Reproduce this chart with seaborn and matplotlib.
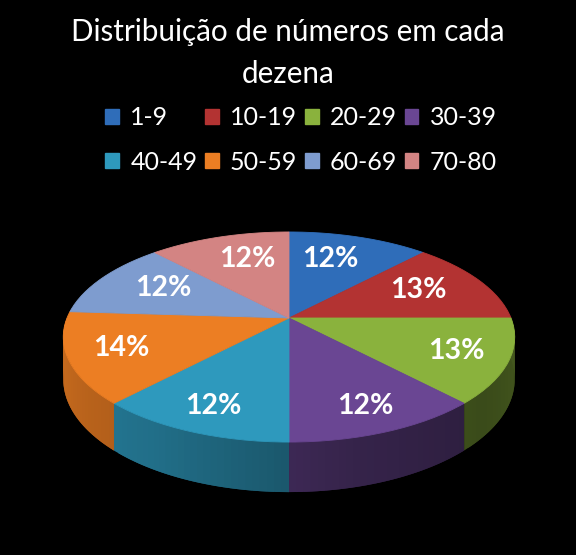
import numpy as np
import matplotlib
matplotlib.use('Agg')
import matplotlib.pyplot as plt
import seaborn as sns
from matplotlib.transforms import Transform, Affine2D
from matplotlib.path import Path
from matplotlib.patches import Patch
from matplotlib.colors import to_rgb

# ---- data ----
categories = ['1-9', '10-19', '20-29', '30-39', '40-49', '50-59', '60-69', '70-80']
percentages = [12, 13, 13, 12, 12, 14, 12, 12]
title_text = 'Distribuição de números em cada\ndezena'
top_colors = ['#2F6DB9', '#B33332', '#8AB23D', '#6A4693',
              '#2E99BD', '#EC7E23', '#7E9CCF', '#D38483']

sns.set_theme(style='white')
plt.rcParams['font.family'] = ['Lato', 'DejaVu Sans']

# ---- perspective geometry (pixels) ----
CX, CY, SX, SY, K, DEPTH = 289.0, 318.0, 222.0, 101.6, 0.181, 41.0


class PerspectiveTransform(Transform):
    input_dims = 2
    output_dims = 2
    is_separable = False
    has_inverse = False

    def transform_non_affine(self, values):
        v = np.asarray(values, float).reshape(-1, 2)
        x, y = v[:, 0], v[:, 1]
        d = 1.0 + K * y
        return np.column_stack([CX + SX * x / d, CY - SY * y / d])

    def transform_path_non_affine(self, path):
        big = path.transformed(Affine2D().scale(500.0))
        polys = big.to_polygons(closed_only=True)
        verts, codes = [], []
        for p in polys:
            p = np.asarray(p) / 500.0
            tp = self.transform_non_affine(p)
            verts.extend(tp)
            codes.extend([Path.MOVETO] + [Path.LINETO] * (len(tp) - 2) + [Path.CLOSEPOLY])
        return Path(np.array(verts), codes)


persp = PerspectiveTransform()

fig = plt.figure(figsize=(5.76, 5.55), dpi=100, facecolor='black')
ax = fig.add_axes([0, 0, 1, 1])
ax.set_facecolor('black')

palette = sns.color_palette(top_colors)
wedges, texts, autotexts = ax.pie(
    percentages, colors=palette, startangle=90, counterclock=False,
    autopct='%.0f%%', pctdistance=0.75, radius=1.0,
    wedgeprops=dict(linewidth=0.6, zorder=3),
    textprops=dict(color='white', fontsize=20.5, fontweight='bold', zorder=6))

ax.set_aspect('auto')
ax.set_xlim(0, 576)
ax.set_ylim(555, 0)
ax.axis('off')

for w in wedges:
    w.set_edgecolor(w.get_facecolor())
    w.set_transform(persp + ax.transData)

for t in autotexts:
    x, y = t.get_position()
    r = np.hypot(x, y)
    ang = np.arctan2(y, x)
    # labels sit a little further out on the near (front) half
    r2 = r * (1.0 - 0.08 * np.sin(ang))
    xt = r2 * np.cos(ang) * (1.0 - 0.2 * max(np.sin(ang), 0))
    yt = r2 * np.sin(ang)
    t.set_position(tuple(persp.transform(np.array([[xt, yt]]))[0]))
    t.set_ha('center')
    t.set_va('center')


def shade(t):
    return np.interp(t, [-180, -120, -75, -40, 0], [0.88, 0.72, 0.5, 0.42, 0.5])


for w, col in zip(wedges, top_colors):
    base = np.array(to_rgb(col))
    for shift in (-360, 0, 360):
        a, b = max(w.theta1 + shift, -180.0), min(w.theta2 + shift, 0.0)
        if b <= a:
            continue
        n = max(3, int((b - a) / 1.5) + 1)
        ts = np.linspace(a, b, n)
        rad = np.deg2rad(ts)
        pts = persp.transform(np.column_stack([np.cos(rad), np.sin(rad)]))
        dep = DEPTH / (1.0 + K * np.sin(rad))
        for i in range(n - 1):
            j = min(i + 2, n - 1)
            xs = [pts[i, 0], pts[j, 0], pts[j, 0], pts[i, 0]]
            ys = [pts[i, 1], pts[j, 1], pts[j, 1] + dep[j], pts[i, 1] + dep[i]]
            c = np.clip(base * shade((ts[i] + ts[i + 1]) / 2), 0, 1)
            ax.fill(xs, ys, color=c, lw=0, zorder=1)

fig.suptitle(title_text, x=0.5, y=1 - 18 / 555, va='top', ha='center',
             color='white', fontsize=21.3, linespacing=1.6)

# legend filled row by row (matplotlib fills column-wise)
ncol = 4
order = [r * ncol + c for c in range(ncol) for r in range(2)]
handles = [Patch(facecolor=palette[i], edgecolor=palette[i]) for i in order]
labels = [categories[i] for i in order]
fig.legend(handles, labels, loc='center', bbox_to_anchor=(301 / 576, 1 - 140 / 555),
           ncol=ncol, frameon=False, fontsize=18, labelcolor='white',
           handlelength=0.55, handleheight=0.55, handletextpad=0.45,
           columnspacing=0.3, labelspacing=0.85)

fig.savefig('out.png', dpi=100, facecolor='black')
